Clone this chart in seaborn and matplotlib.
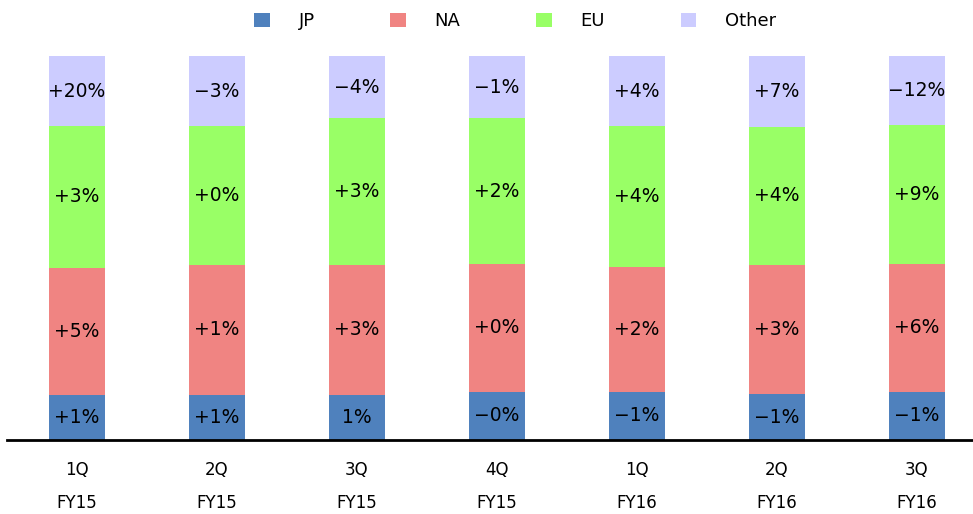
import numpy as np
import pandas as pd
import seaborn as sns
import matplotlib.pyplot as plt
from matplotlib.patches import Patch

# quarters on the x axis
quarters = ["1Q\nFY15", "2Q\nFY15", "3Q\nFY15", "4Q\nFY15", "1Q\nFY16", "2Q\nFY16", "3Q\nFY16"]

# share of sales per region (% of total)
jp = [11.7, 11.7, 11.7, 12.6, 12.6, 11.9, 12.6]
na = [33.2, 34.0, 34.0, 33.2, 32.5, 33.7, 33.3]
eu = [36.9, 36.1, 38.1, 38.1, 36.7, 36.0, 36.2]
other = [18.2, 18.2, 16.2, 16.1, 18.2, 18.4, 17.9]

# growth labels printed in each segment
jp_lbl = ["+1%", "+1%", "1%", "\u22120%", "\u22121%", "\u22121%", "\u22121%"]
na_lbl = ["+5%", "+1%", "+3%", "+0%", "+2%", "+3%", "+6%"]
eu_lbl = ["+3%", "+0%", "+3%", "+2%", "+4%", "+4%", "+9%"]
other_lbl = ["+20%", "\u22123%", "\u22124%", "\u22121%", "+4%", "+7%", "\u221212%"]

regions = ["JP", "NA", "EU", "Other"]
colors = {"JP": "#4f81bd", "NA": "#f08482", "EU": "#99ff66", "Other": "#ccccff"}

df = pd.DataFrame({"quarter": quarters, "JP": jp, "NA": na, "EU": eu, "Other": other})
cum = df[regions].cumsum(axis=1)
cum["quarter"] = quarters

sns.set_theme(style="white")

fig = plt.figure(figsize=(9.73, 5.14), dpi=100)
ax = fig.add_axes([7 / 973, 74 / 514, 966 / 973, 385 / 514])

# draw cumulative totals from the top down so the stacks overlay each other
for reg in reversed(regions):
    sns.barplot(data=cum, x="quarter", y=reg, order=quarters, color=colors[reg],
                width=0.4, saturation=1, edgecolor="none", linewidth=0, ax=ax)

labels = {"JP": jp_lbl, "NA": na_lbl, "EU": eu_lbl, "Other": other_lbl}
for i in range(len(quarters)):
    bottom = 0
    for reg in regions:
        h = df[reg][i]
        ax.text(i, bottom + h / 2, labels[reg][i], ha="center", va="center",
                fontsize=13.5, color="black")
        bottom += h

ax.set_xlim(-0.5, 6.4)
ax.set_ylim(0, 100.3)
ax.set_xlabel("")
ax.set_ylabel("")
ax.set_yticks([])
ax.tick_params(axis="x", length=0, pad=15, labelsize=12, labelcolor="black")
for lbl in ax.get_xticklabels():
    lbl.set_linespacing(2.1)
for s in ["top", "right", "left"]:
    ax.spines[s].set_visible(False)
ax.spines["bottom"].set_color("black")
ax.spines["bottom"].set_linewidth(2)

handles = [Patch(facecolor=colors[r], edgecolor="none", label=r) for r in regions]
leg = fig.legend(handles=handles, loc="upper left", bbox_to_anchor=(238 / 973, 1.008), ncol=4,
                 frameon=False, fontsize=13, handlelength=0.85, handleheight=0.85,
                 handletextpad=1.6, columnspacing=4.2)
for t in leg.get_texts():
    t.set_color("black")

fig.savefig("out.png", dpi=100)
